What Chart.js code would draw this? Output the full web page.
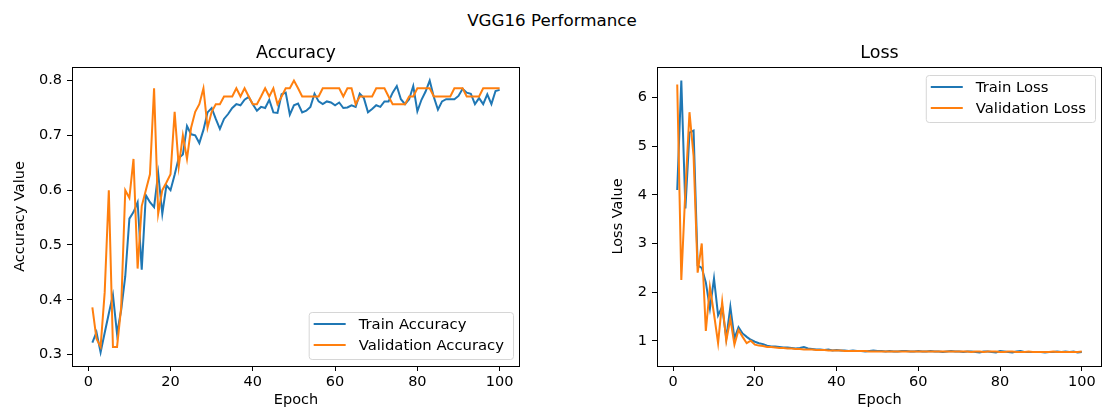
<!DOCTYPE html>
<html><head><meta charset="utf-8">
<script src="https://cdn.jsdelivr.net/npm/chart.js@4.4.0/dist/chart.umd.min.js"></script>
<style>
html,body{margin:0;padding:0;background:#fff;width:1104px;height:408px;overflow:hidden;position:relative;}
#sup{position:absolute;left:0;top:10px;width:1104px;text-align:center;font-family:"DejaVu Sans";font-size:16.7px;line-height:20px;color:#000;}
canvas{position:absolute;top:0;}
</style></head><body>
<div id="sup">VGG16 Performance</div>
<canvas id="acc" width="552" height="408" style="left:0;width:552px;height:408px"></canvas>
<canvas id="loss" width="552" height="408" style="left:552px;width:552px;height:408px"></canvas>
<script>
const epochs = Array.from({length: 100}, (_, i) => i + 1);

const trainAcc = [
  0.322, 0.341, 0.304, 0.340, 0.375, 0.409, 0.338, 0.381, 0.443, 0.548,
  0.560, 0.578, 0.455, 0.591, 0.578, 0.569, 0.631, 0.557, 0.609, 0.600,
  0.628, 0.659, 0.665, 0.717, 0.702, 0.700, 0.686, 0.710, 0.742, 0.750,
  0.730, 0.712, 0.730, 0.739, 0.750, 0.757, 0.755, 0.765, 0.770, 0.757,
  0.745, 0.752, 0.750, 0.765, 0.742, 0.741, 0.775, 0.778, 0.738, 0.755,
  0.758, 0.742, 0.745, 0.752, 0.776, 0.762, 0.757, 0.762, 0.760, 0.755,
  0.760, 0.750, 0.751, 0.755, 0.752, 0.776, 0.768, 0.742, 0.748, 0.755,
  0.752, 0.762, 0.762, 0.778, 0.790, 0.766, 0.757, 0.766, 0.790, 0.744,
  0.765, 0.780, 0.800, 0.770, 0.747, 0.762, 0.766, 0.766, 0.766, 0.772,
  0.785, 0.778, 0.776, 0.757, 0.768, 0.757, 0.775, 0.757, 0.781, 0.783
];
const valAcc = [
  0.386, 0.329, 0.314, 0.414, 0.600, 0.314, 0.314, 0.386, 0.600, 0.586,
  0.657, 0.457, 0.571, 0.600, 0.629, 0.786, 0.557, 0.600, 0.614, 0.629,
  0.743, 0.643, 0.700, 0.657, 0.714, 0.743, 0.757, 0.786, 0.714, 0.743,
  0.757, 0.757, 0.771, 0.771, 0.771, 0.786, 0.771, 0.786, 0.771, 0.757,
  0.757, 0.771, 0.786, 0.771, 0.786, 0.757, 0.771, 0.786, 0.786, 0.800,
  0.786, 0.771, 0.771, 0.771, 0.771, 0.771, 0.786, 0.786, 0.786, 0.786,
  0.786, 0.771, 0.786, 0.786, 0.757, 0.771, 0.771, 0.771, 0.771, 0.786,
  0.786, 0.786, 0.771, 0.757, 0.757, 0.757, 0.757, 0.771, 0.771, 0.786,
  0.786, 0.786, 0.786, 0.771, 0.771, 0.771, 0.771, 0.771, 0.786, 0.786,
  0.786, 0.771, 0.771, 0.771, 0.771, 0.786, 0.786, 0.786, 0.786, 0.786
];
const trainLoss = [
  4.10, 6.35, 3.72, 5.28, 5.32, 2.55, 2.50, 2.20, 1.66, 2.28,
  1.52, 1.70, 1.05, 1.70, 1.05, 1.28, 1.15, 1.08, 1.02, 0.98,
  0.95, 0.93, 0.90, 0.88, 0.88, 0.87, 0.86, 0.86, 0.85, 0.84,
  0.85, 0.87, 0.84, 0.83, 0.82, 0.82, 0.81, 0.82, 0.80, 0.81,
  0.80, 0.80, 0.79, 0.80, 0.79, 0.79, 0.78, 0.79, 0.80, 0.79,
  0.79, 0.78, 0.79, 0.78, 0.78, 0.79, 0.79, 0.78, 0.78, 0.79,
  0.78, 0.78, 0.79, 0.78, 0.78, 0.77, 0.78, 0.79, 0.78, 0.78,
  0.77, 0.78, 0.78, 0.77, 0.76, 0.78, 0.78, 0.77, 0.76, 0.79,
  0.78, 0.77, 0.76, 0.78, 0.79, 0.77, 0.77, 0.77, 0.77, 0.77,
  0.76, 0.77, 0.77, 0.78, 0.77, 0.78, 0.77, 0.78, 0.76, 0.77
];
const valLoss = [
  6.27, 2.25, 4.10, 5.70, 4.80, 2.40, 3.00, 1.20, 2.10, 1.55,
  0.95, 1.80, 1.00, 1.45, 0.92, 1.22, 1.08, 0.95, 1.00, 0.92,
  0.90, 0.89, 0.87, 0.87, 0.86, 0.85, 0.85, 0.84, 0.84, 0.83,
  0.83, 0.82, 0.82, 0.82, 0.81, 0.81, 0.81, 0.80, 0.80, 0.80,
  0.80, 0.79, 0.79, 0.79, 0.79, 0.79, 0.79, 0.78, 0.78, 0.78,
  0.78, 0.78, 0.78, 0.78, 0.78, 0.78, 0.78, 0.78, 0.78, 0.78,
  0.78, 0.78, 0.78, 0.78, 0.78, 0.78, 0.78, 0.78, 0.78, 0.78,
  0.78, 0.78, 0.77, 0.78, 0.78, 0.77, 0.78, 0.78, 0.78, 0.77,
  0.77, 0.78, 0.78, 0.77, 0.77, 0.77, 0.78, 0.77, 0.77, 0.77,
  0.77, 0.77, 0.78, 0.77, 0.77, 0.77, 0.77, 0.77, 0.77, 0.78
];

const xTicks = [0, 20, 40, 60, 80, 100];
const accTicks = [0.3, 0.4, 0.5, 0.6, 0.7, 0.8];
const lossTicks = [1, 2, 3, 4, 5, 6];

const BLUE = '#1f77b4', ORANGE = '#ff7f0e';
const FONT = 'DejaVu Sans';
const FS = 14.5;
Chart.defaults.font.family = FONT;
Chart.defaults.font.size = FS;
Chart.defaults.color = '#000';

function margin(arrs, frac) {
  const all = [].concat(...arrs);
  const mn = Math.min(...all), mx = Math.max(...all);
  const d = (mx - mn) * frac;
  return [mn - d, mx + d];
}

const framePlugin = {
  id: 'frameLegend',
  afterDraw(chart, args, opts) {
    const {ctx, chartArea: a} = chart;
    ctx.save();
    ctx.font = '14.8px "' + FONT + '"';
    const ds = chart.data.datasets;
    const tw = Math.max(...ds.map(d => ctx.measureText(d.label).width));
    const w = 50 + tw + 9, h = 47;
    const x = a.right - 7 - w;
    const y = opts.pos === 'lower right' ? a.bottom - 7 - h : a.top + 8;
    ctx.beginPath();
    ctx.roundRect(x + 0.5, y + 0.5, w, h, 3);
    ctx.fillStyle = 'rgba(255,255,255,0.8)';
    ctx.fill();
    ctx.strokeStyle = '#d6d6d6';
    ctx.lineWidth = 1;
    ctx.stroke();
    ds.forEach((d, i) => {
      const cy = y + 12 + 21 * i;
      ctx.beginPath();
      ctx.moveTo(x + 5, cy);
      ctx.lineTo(x + 37, cy);
      ctx.strokeStyle = d.borderColor;
      ctx.lineWidth = 2;
      ctx.stroke();
      ctx.fillStyle = '#000';
      ctx.textBaseline = 'middle';
      ctx.textAlign = 'left';
      ctx.fillText(d.label, x + 50, cy + 1);
    });
    ctx.strokeStyle = '#000';
    ctx.lineWidth = 1;
    ctx.strokeRect(a.left + 0.5, a.top + 0.5, a.right - a.left - 1, a.bottom - a.top);
    ctx.restore();
  }
};

function makeChart(id, cfg) {
  const yr = margin([cfg.s1, cfg.s2], 0.05);
  const span = epochs[epochs.length - 1] - epochs[0];
  const xr = [epochs[0] - span * 0.05, epochs[epochs.length - 1] + span * 0.05];
  return new Chart(document.getElementById(id), {
    type: 'line',
    data: {
      datasets: [
        {label: cfg.l1, data: epochs.map((e, i) => ({x: e, y: cfg.s1[i]})), borderColor: BLUE, backgroundColor: BLUE, borderWidth: 2, pointRadius: 0, tension: 0, fill: false, order: 2},
        {label: cfg.l2, data: epochs.map((e, i) => ({x: e, y: cfg.s2[i]})), borderColor: ORANGE, backgroundColor: ORANGE, borderWidth: 2, pointRadius: 0, tension: 0, fill: false, order: 1}
      ]
    },
    options: {
      responsive: false,
      animation: false,
      devicePixelRatio: 1,
      layout: {padding: {left: 0, right: cfg.padRight, top: 0, bottom: 0}},
      plugins: {
        legend: {display: false},
        tooltip: {enabled: false},
        title: {display: true, text: cfg.title, fullSize: false, color: '#000',
                font: {size: 17.5, weight: 'normal'}, padding: {top: 42.5, bottom: 3.5}},
        frameLegend: {pos: cfg.legendPos}
      },
      scales: {
        x: {
          type: 'linear', min: xr[0], max: xr[1],
          grid: {drawOnChartArea: false, drawTicks: true, tickLength: 5, tickColor: '#000', tickWidth: 1},
          border: {display: false},
          ticks: {color: '#000', padding: 3, maxRotation: 0, font: {size: FS}},
          afterBuildTicks: s => { s.ticks = xTicks.map(v => ({value: v})); },
          afterFit: s => { s.height = 42; },
          title: {display: true, text: 'Epoch', color: '#000', font: {size: FS}, padding: {top: 0, bottom: -1}}
        },
        y: {
          type: 'linear', min: yr[0], max: yr[1],
          grid: {drawOnChartArea: false, drawTicks: true, tickLength: 5, tickColor: '#000', tickWidth: 1},
          border: {display: false},
          ticks: {color: '#000', padding: 5, font: {size: FS}, callback: cfg.fmt},
          afterBuildTicks: s => { s.ticks = cfg.yTicks.map(v => ({value: v})); },
          afterFit: s => { s.width = cfg.yWidth; },
          title: {display: true, text: cfg.yTitle, color: '#000', font: {size: FS}, padding: {top: cfg.yTitlePad, bottom: 0}}
        }
      }
    },
    plugins: [framePlugin]
  });
}

makeChart('acc', {
  s1: trainAcc, s2: valAcc, l1: 'Train Accuracy', l2: 'Validation Accuracy',
  title: 'Accuracy', yTitle: 'Accuracy Value', yTicks: accTicks, fmt: v => Number(v).toFixed(1),
  yWidth: 72, padRight: 32, yTitlePad: 11.3, legendPos: 'lower right'
});
makeChart('loss', {
  s1: trainLoss, s2: valLoss, l1: 'Train Loss', l2: 'Validation Loss',
  title: 'Loss', yTitle: 'Loss Value', yTicks: lossTicks, fmt: v => String(v),
  yWidth: 105, padRight: 2, yTitlePad: 57.3, legendPos: 'upper right'
});
</script>
</body></html>
